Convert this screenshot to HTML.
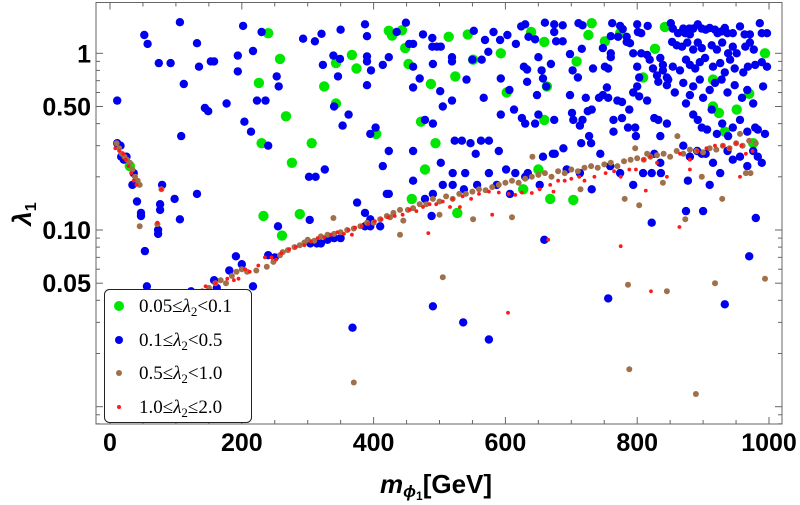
<!DOCTYPE html>
<html><head><meta charset="utf-8">
<style>
html,body{margin:0;padding:0;background:#fff;}
svg{display:block;}
.tk{font-family:"Liberation Sans",sans-serif;font-weight:bold;font-size:25px;fill:#000;}
.lg{font-family:"Liberation Serif",serif;font-size:19px;fill:#000;}
</style></head>
<body>
<svg id="chart" width="800" height="505" viewBox="0 0 800 505" xmlns="http://www.w3.org/2000/svg">
<rect x="0" y="0" width="800" height="505" fill="#fff"/>
<g id="points"></g>
<rect x="96" y="2.5" width="686" height="421.5" fill="none" stroke="#666" stroke-width="1"/>
<g id="ticks"></g>
<g id="labels"></g>
<text x="380" y="493" font-family="Liberation Sans, sans-serif" font-weight="bold" font-size="26"><tspan font-style="italic">m</tspan><tspan font-style="italic" font-size="17" dy="4">ϕ</tspan><tspan font-size="12" dy="3">1</tspan><tspan dy="-7">[GeV]</tspan></text>
<text transform="translate(31,214) rotate(-90)" text-anchor="middle" font-family="Liberation Sans, sans-serif" font-weight="bold" font-size="26"><tspan font-style="italic">λ</tspan><tspan font-size="16" dy="5">1</tspan></text>
<g>
<rect x="104.5" y="289.5" width="147" height="133" rx="5" fill="#fff" stroke="#222" stroke-width="1"/>
<circle cx="119" cy="306" r="5" fill="#00e600"/>
<text class="lg" x="139" y="312">0.05≤<tspan font-style="italic">λ</tspan><tspan font-size="13" dy="4">2</tspan><tspan dy="-4">&lt;0.1</tspan></text>
<circle cx="119" cy="340" r="4" fill="#0000ee"/>
<text class="lg" x="139" y="346">0.1≤<tspan font-style="italic">λ</tspan><tspan font-size="13" dy="4">2</tspan><tspan dy="-4">&lt;0.5</tspan></text>
<circle cx="119" cy="373" r="3" fill="#a0704a"/>
<text class="lg" x="139" y="379">0.5≤<tspan font-style="italic">λ</tspan><tspan font-size="13" dy="4">2</tspan><tspan dy="-4">&lt;1.0</tspan></text>
<circle cx="119" cy="407" r="2" fill="#ff1a1a"/>
<text class="lg" x="139" y="413">1.0≤<tspan font-style="italic">λ</tspan><tspan font-size="13" dy="4">2</tspan><tspan dy="-4">≤2.0</tspan></text>
</g>
</svg>
<script>
const xTickValues=[0,200,400,600,800,1000];
const xTickLabels=["0","200","400","600","800","1000"];
const yTickValues=[0.05,0.1,0.5,1];
const yTickLabels=["0.05","0.10","0.50","1"];

const greenM=[240,258,226,267,230,306,276,233,288,261,367,374,343,325,343,404,423,428,30,443,448,453,487,472,494,478,458,514,543,524,551,593,602,527,639,659,663,659,650,627,668,703,708,731,726,751,809,827,842,915,915,924,951,933,970,994,976,774];
const greenL=[1.3,0.93,0.68,0.44,0.31,0.31,0.24,0.12,0.123,0.093,0.98,0.82,0.88,0.65,0.52,0.35,1.34,1.26,0.23,1.35,1.07,0.87,0.67,0.41,0.31,0.22,0.15,1.24,1.28,0.74,0.92,1.0,0.6,0.125,1.32,1.16,0.65,0.42,0.22,0.17,0.15,0.148,0.9,1.48,1.27,1.17,0.73,1.06,1.41,0.71,0.5,0.46,0.48,0.36,0.59,1.0,0.31,1.3];

const blueM=[11,52,57,74,92,106,112,108,132,135,153,158,144,149,177,202,194,194,204,214,217,223,236,230,240,253,256,293,311,321,323,339,350,346,349,340,362,353,302,312,326,387,390,390,390,396,390,403,395,414,423,414,423,435,423,
11,16,17,21,25,36,34,41,47,47,53,56,79,76,76,73,73,98,106,132,91,123,144,158,162,181,191,200,217,255,240,250,303,304,314,320,330,340,350,375,387,395,387,395,420,410,368,
449,475,489,489,496,502,454,460,460,470,460,490,501,505,519,490,478,519,519,523,534,547,563,575,555,460,502,520,539,590,552,569,550,564,574,567,541,582,592,603,616,624,630,635,645,593,593,606,613,625,630,633,628,633,648,645,650,650,655,657,660,674,674,687,677,687,669,662,674,675,688,698,702,710,698,701,703,713,717,716,711,717,722,725,731,727,730,715,733,742,748,754,756,748,751,756,760,760,762,774,778,760,771,784,784,789,764,764,777,786,797,798,770,777,788,794,800,803,815,803,794,800,806,815,801,806,816,800,819,824,830,832,835,839,845,845,826,832,845,835,826,822,836,
851,854,862,870,873,879,880,885,892,898,904,910,918,922,928,933,937,945,956,963,971,986,989,997,
853,860,868,876,885,892,898,913,921,929,938,945,951,964,971,977,
839,854,865,874,880,888,895,903,915,926,933,941,948,961,968,979,989,997,
847,857,870,880,885,895,900,910,918,928,937,948,959,967,976,991,
874,885,892,898,906,913,921,929,938,945,956,967,979,983,994,
870,880,891,898,904,915,926,937,945,956,967,976,983,989,877,910,
460,478,490,505,520,537,557,575,587,601,607,615,630,634,652,657,672,693,713,731,744,759,774,794,809,835,
488,659,490,536,575,756,822,874,900,980,970,933];
const blueL=[0.54,1.27,1.13,0.88,0.88,1.5,0.67,0.34,1.14,0.84,0.9,0.9,0.49,0.47,0.52,1.43,0.97,0.79,0.41,0.36,1.03,0.54,0.54,1.32,0.3,0.74,0.65,1.21,1.17,1.29,0.86,0.97,1.36,0.74,0.93,0.5,0.45,0.39,0.2,0.2,0.22,1.46,1.25,0.96,0.9,0.8,0.66,0.38,0.35,0.86,0.95,0.23,0.28,1.32,0.16,
0.31,0.3,0.26,0.25,0.26,0.21,0.18,0.145,0.125,0.12,0.076,0.048,0.18,0.14,0.13,0.1,0.095,0.15,0.115,0.16,0.035,0.045,0.043,0.052,0.047,0.059,0.071,0.064,0.048,0.105,0.072,0.07,0.114,0.084,0.084,0.084,0.088,0.09,0.09,0.143,0.105,0.105,0.125,0.115,0.16,0.105,0.028,
1.49,1.28,1.22,1.09,1.09,1.09,1.13,1.13,0.84,0.72,0.64,0.87,0.61,0.5,0.54,0.4,0.42,0.95,0.9,0.32,0.32,0.31,0.32,0.32,0.27,0.28,0.24,0.21,0.21,0.28,1.34,1.19,0.92,0.92,1.02,0.56,0.71,1.32,1.19,1.27,1.13,1.42,1.46,1.24,1.2,0.72,0.45,0.62,0.48,0.43,0.4,0.69,0.84,0.81,0.58,0.4,0.45,0.95,0.8,0.72,1.49,1.46,1.32,1.44,1.17,1.17,0.87,0.65,0.42,0.27,0.29,0.99,0.8,0.73,0.58,0.46,0.42,0.39,0.42,1.06,1.48,1.44,0.56,0.47,0.48,0.34,0.31,0.31,0.82,0.56,0.58,0.64,0.56,1.07,0.84,0.82,1.0,0.95,1.48,1.43,1.37,1.25,1.24,1.24,1.16,1.14,0.42,0.36,0.43,0.38,0.38,0.34,0.54,0.53,0.48,0.6,0.65,0.57,0.54,0.73,1.0,0.84,1.0,0.98,1.32,1.3,1.43,1.46,0.92,0.82,0.75,0.69,0.94,0.8,0.73,0.66,0.43,0.42,0.4,0.34,0.27,0.21,0.21,
1.48,1.38,1.3,1.38,1.3,1.38,1.28,1.38,1.46,1.38,1.36,1.39,1.36,1.3,1.33,1.39,1.3,1.3,1.42,1.28,1.28,1.48,1.3,1.3,
1.16,1.11,1.09,1.15,1.05,1.15,1.07,1.11,1.05,1.15,1.0,1.09,1.0,1.09,1.15,1.05,
0.86,0.84,0.8,0.92,0.86,0.82,0.89,0.94,0.84,0.88,0.78,0.92,0.82,0.78,0.84,0.86,0.89,0.84,
0.71,0.6,0.68,0.58,0.65,0.71,0.56,0.62,0.68,0.71,0.6,0.66,0.56,0.62,0.52,0.65,
0.52,0.45,0.42,0.38,0.37,0.48,0.35,0.4,0.34,0.38,0.42,0.36,0.38,0.37,0.35,
0.3,0.26,0.28,0.27,0.27,0.24,0.21,0.28,0.25,0.26,0.23,0.28,0.26,0.24,0.19,0.18,
0.19,0.15,0.16,0.18,0.18,0.17,0.18,0.21,0.18,0.22,0.16,0.21,0.2,0.21,0.18,0.26,0.27,0.22,0.21,0.17,0.27,0.23,0.21,0.18,0.21,0.24,
0.12,0.088,0.037,0.03,0.024,0.041,0.11,0.128,0.128,0.117,0.071,0.038];

const brownM=[10,14,18,22,26,30,34,38,42,45,45,72,78,83,88,95,105,115,125,140,150,160,168,176,185,192,200,208,222,238,248,258,262,270,280,288,295,300,310,320,330,340,350,360,370,380,390,400,410,420,425,430,440,445,452,460,470,480,490,500,510,520,530,540,550,560,570,580,590,600,610,620,630,640,650,660,670,680,690,700,710,720,730,740,750,760,770,780,790,800,810,820,830,840,850,860,870,880,890,900,910,920,930,940,950,960,970,980,
440,500,551,610,505,714,781,803,839,873,929,786,845,918,994,788,889,370,339,898,956,861,797,815,641,965,972];
const brownL=[0.31,0.29,0.27,0.26,0.25,0.24,0.22,0.2,0.19,0.18,0.105,0.108,0.17,0.038,0.037,0.039,0.04,0.041,0.044,0.045,0.047,0.05,0.052,0.05,0.055,0.058,0.06,0.058,0.059,0.062,0.066,0.072,0.075,0.077,0.08,0.082,0.085,0.088,0.087,0.092,0.094,0.095,0.097,0.1,0.102,0.105,0.11,0.11,0.115,0.12,0.118,0.125,0.13,0.113,0.13,0.133,0.14,0.14,0.15,0.145,0.155,0.15,0.16,0.16,0.165,0.17,0.168,0.175,0.18,0.185,0.19,0.185,0.195,0.2,0.205,0.21,0.2,0.215,0.21,0.22,0.215,0.225,0.23,0.225,0.235,0.24,0.23,0.245,0.25,0.255,0.25,0.26,0.265,0.27,0.26,0.28,0.27,0.285,0.28,0.275,0.29,0.285,0.3,0.29,0.31,0.3,0.32,0.31,
0.094,0.122,0.115,0.118,0.054,0.17,0.15,0.138,0.185,0.115,0.15,0.049,0.045,0.05,0.053,0.0163,0.0118,0.0137,0.117,0.2,0.35,0.34,0.29,0.27,0.26,0.21,0.21];

const redM=[8,14,20,24,28,32,36,40,78,72,92,100,108,120,130,145,160,178,188,195,205,212,225,235,245,252,260,272,282,295,305,315,325,335,345,355,362,372,382,392,402,412,422,432,444,455,465,475,485,495,505,520,535,548,560,575,590,605,615,625,640,652,668,680,690,700,712,720,735,752,765,775,788,798,810,820,830,845,865,880,892,905,918,930,940,950,958,965,975,
367,483,580,665,775,864,821,604,673,531,516,813,880,956];
const redL=[0.29,0.28,0.27,0.25,0.23,0.21,0.19,0.18,0.17,0.11,0.036,0.041,0.042,0.043,0.045,0.048,0.05,0.053,0.052,0.053,0.06,0.058,0.063,0.07,0.07,0.068,0.074,0.078,0.08,0.082,0.086,0.09,0.091,0.094,0.097,0.095,0.1,0.103,0.105,0.108,0.112,0.115,0.118,0.12,0.122,0.13,0.128,0.135,0.14,0.14,0.145,0.15,0.155,0.15,0.16,0.165,0.163,0.16,0.158,0.163,0.162,0.17,0.18,0.19,0.19,0.195,0.2,0.19,0.2,0.21,0.215,0.2,0.22,0.22,0.25,0.26,0.24,0.2,0.27,0.25,0.28,0.29,0.3,0.3,0.29,0.31,0.3,0.27,0.28,
0.094,0.096,0.122,0.088,0.081,0.104,0.045,0.034,0.165,0.135,0.135,0.167,0.22,0.2];

const NS='http://www.w3.org/2000/svg';
function xs(m){return 110+m*0.659;}
function ys(l){return 53.3-Math.log10(l)*176.7;}

const pts=document.getElementById('points');
function drawSeries(M,L,r,color,name){
  for(let i=0;i<M.length;i++){
    const c=document.createElementNS(NS,'circle');
    c.setAttribute('cx',xs(M[i]).toFixed(1));
    c.setAttribute('cy',ys(L[i]).toFixed(1));
    c.setAttribute('r',r);
    c.setAttribute('fill',color);
    
    
    pts.appendChild(c);
  }
}
drawSeries(greenM,greenL,5.2,'#00e600','point-green');
drawSeries(blueM,blueL,4.2,'#0000ee','point-blue');
drawSeries(brownM,brownL,3,'#a0704a','point-brown');
drawSeries(redM,redL,1.9,'#ff1a1a','point-red');

const tk=document.getElementById('ticks');
function line(x1,y1,x2,y2){
  const l=document.createElementNS(NS,'line');
  l.setAttribute('x1',x1);l.setAttribute('y1',y1);l.setAttribute('x2',x2);l.setAttribute('y2',y2);
  l.setAttribute('stroke','#666');l.setAttribute('stroke-width','1');
  
  
  tk.appendChild(l);
}
for(let m=0;m<=1000;m+=50){
  const x=xs(m), len=(m%200===0)?7:4;
  line(x,424,x,424-len); line(x,2.5,x,2.5+len);
}
const decs=[0.001,0.01,0.1,1];
for(const d of decs){
  for(let k=1;k<10;k++){
    const v=d*k; if(v<0.008||v>1.6) continue;
    const y=ys(v); const major=(k===1||k===5);
    const len=major?7:4;
    line(96,y,96+len,y); line(782,y,782-len,y);
  }
}
const lb=document.getElementById('labels');
for(let i=0;i<xTickValues.length;i++){
  const t=document.createElementNS(NS,'text');
  t.setAttribute('x',xs(xTickValues[i]));t.setAttribute('y',451);
  t.setAttribute('text-anchor','middle');t.setAttribute('class','tk');
  
  
  t.textContent=xTickLabels[i];lb.appendChild(t);
}
for(let i=0;i<yTickValues.length;i++){
  const t=document.createElementNS(NS,'text');
  t.setAttribute('x',91);t.setAttribute('y',ys(yTickValues[i])+9);
  t.setAttribute('text-anchor','end');t.setAttribute('class','tk');
  
  
  t.textContent=yTickLabels[i];lb.appendChild(t);
}
</script>
</body></html>
